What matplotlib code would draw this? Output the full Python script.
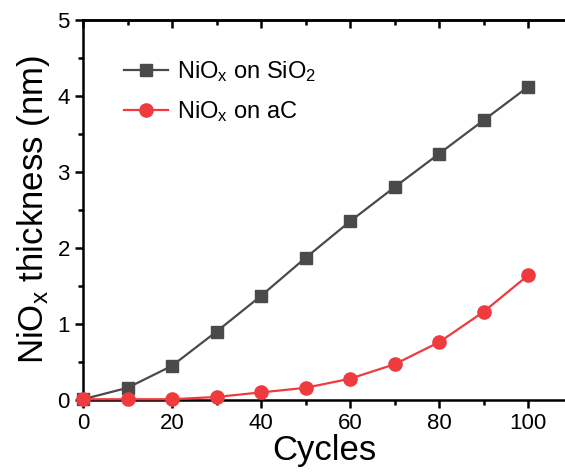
import matplotlib
matplotlib.use("Agg")
import matplotlib.pyplot as plt
from matplotlib.ticker import MultipleLocator

plt.rcParams['font.family'] = ['Liberation Sans', 'DejaVu Sans']
plt.rcParams['mathtext.fontset'] = 'custom'
plt.rcParams['mathtext.rm'] = 'Liberation Sans'
plt.rcParams['mathtext.it'] = 'Liberation Sans'
plt.rcParams['mathtext.default'] = 'regular'

cycles = [0, 10, 20, 30, 40, 50, 60, 70, 80, 90, 100]
sio2 = [0.01, 0.16, 0.45, 0.90, 1.37, 1.87, 2.35, 2.80, 3.24, 3.68, 4.12]
ac = [0.01, 0.01, 0.01, 0.04, 0.10, 0.16, 0.28, 0.47, 0.76, 1.16, 1.64]

fig = plt.figure(figsize=(5.65, 4.75), dpi=100)
ax = fig.add_axes([83/565, 75/475, 1 - 83/565, 380/475])

ax.plot(cycles, sio2, color='#4a4a4a', lw=1.6, marker='s', ms=9,
        label='NiO$_x$ on SiO$_2$', clip_on=False, zorder=3)
ax.plot(cycles, ac, color='#ef3b3e', lw=1.6, marker='o', ms=9.5,
        label='NiO$_x$ on aC', clip_on=False, zorder=4)

ax.set_xlim(0, 108.3)
ax.set_ylim(0, 5)
ax.xaxis.set_major_locator(MultipleLocator(20))
ax.xaxis.set_minor_locator(MultipleLocator(10))
ax.yaxis.set_major_locator(MultipleLocator(1))
ax.yaxis.set_minor_locator(MultipleLocator(0.5))

for s in ['left', 'bottom', 'top']:
    ax.spines[s].set_linewidth(1.8)
ax.spines['right'].set_visible(False)

ax.tick_params(which='both', direction='out', width=1.8, labelsize=16,
               top=False, right=False)
ax.tick_params(which='major', length=6)
ax.tick_params(which='minor', length=3.5)

# inward ticks on the top spine
sec = ax.secondary_xaxis('top')
sec.xaxis.set_major_locator(MultipleLocator(20))
sec.xaxis.set_minor_locator(MultipleLocator(10))
sec.tick_params(which='both', direction='in', width=1.8, labeltop=False)
sec.tick_params(which='major', length=6)
sec.tick_params(which='minor', length=3.5)
sec.spines['top'].set_linewidth(1.8)

ax.set_xlabel('Cycles', fontsize=25, labelpad=0)
ax.set_ylabel('NiO$_x$ thickness (nm)', fontsize=25, labelpad=4)

ax.legend(loc='upper left', frameon=False, fontsize=17, handlelength=1.9,
          handletextpad=0.35, labelspacing=0.62, borderaxespad=0.3,
          bbox_to_anchor=(0.05, 0.94))

fig.savefig('out.png', dpi=100)
